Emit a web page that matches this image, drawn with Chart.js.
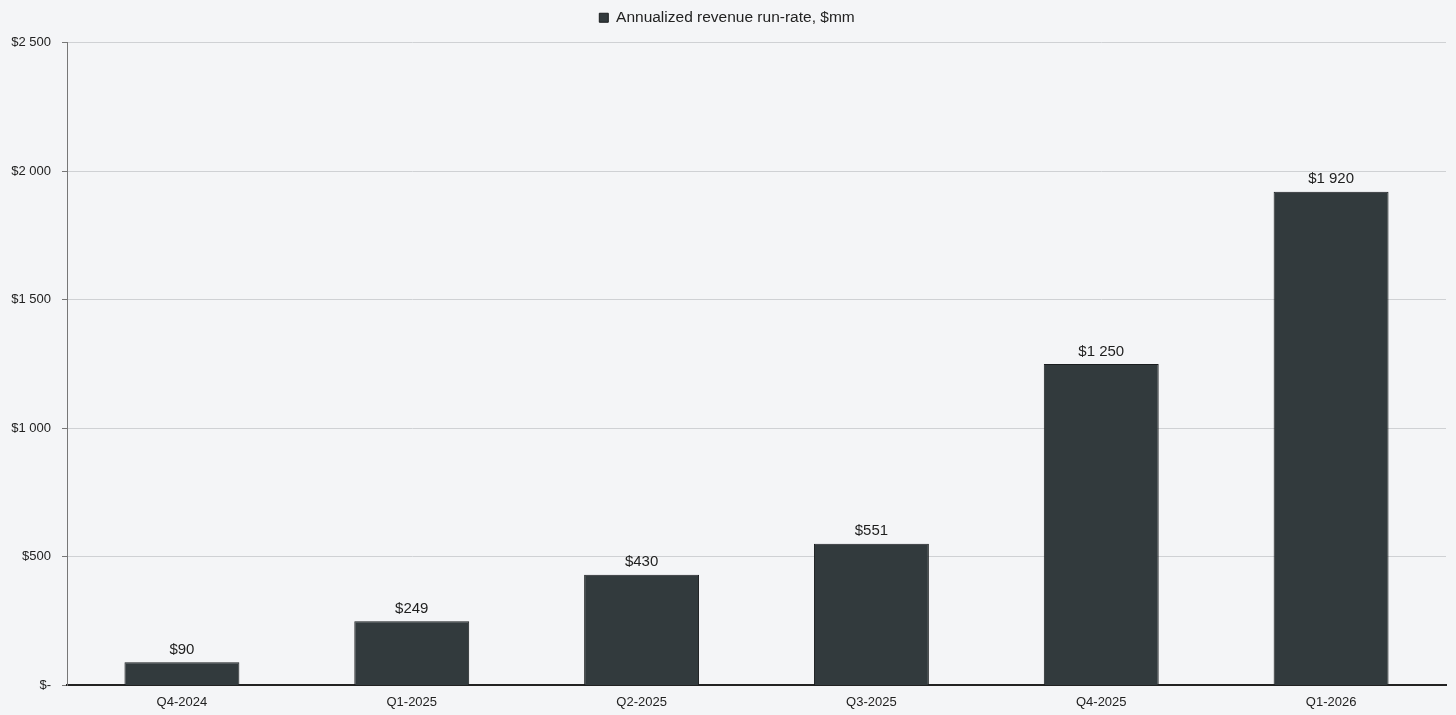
<!DOCTYPE html>
<html lang="en">
<head>
  <meta charset="UTF-8">
  <title>Annualized revenue run-rate</title>
  <script src="https://cdn.jsdelivr.net/npm/chart.js"></script>
  <style>
    html, body { margin: 0; padding: 0; background: #f4f5f7; }
    #wrap { width: 1456px; height: 715px; }
  </style>
</head>
<body>
  <div id="wrap"><canvas id="chart"></canvas></div>
  <script>
    const quarters = ['Q4-2024', 'Q1-2025', 'Q2-2025', 'Q3-2025', 'Q4-2025', 'Q1-2026'];
    const runRate = [90, 249, 430, 551, 1250, 1920];
    const yTicks = [0, 500, 1000, 1500, 2000, 2500];

    const FONT = '"Liberation Sans", Arial, Helvetica, sans-serif';

    function money(v) {
      if (v === 0) return '$-';
      return '$' + String(v).replace(/\B(?=(\d{3})+(?!\d))/g, ' ');
    }

    // draws the value above each bar
    const barLabels = {
      id: 'barLabels',
      afterDatasetsDraw(chart) {
        const c = chart.ctx;
        const meta = chart.getDatasetMeta(0);
        c.save();
        c.font = '15px ' + FONT;
        c.fillStyle = '#1e1e1e';
        c.textAlign = 'center';
        c.textBaseline = 'bottom';
        meta.data.forEach((bar, i) => {
          c.fillText(money(runRate[i]), bar.x, bar.y - 5);
        });
        c.restore();
      }
    };

    // a bit more room under the legend
    const legendGap = {
      id: 'legendGap',
      beforeInit(chart) {
        const fit = chart.legend.fit;
        chart.legend.fit = function () {
          fit.call(this);
          this.height += 7;
        };
      }
    };

    new Chart(document.getElementById('chart'), {
      type: 'bar',
      data: {
        labels: quarters,
        datasets: [{
          label: 'Annualized revenue run-rate, $mm',
          data: runRate,
          backgroundColor: '#323a3d',
          borderColor: '#1a1d1f',
          borderWidth: 1,
          categoryPercentage: 1,
          barPercentage: 0.5
        }]
      },
      options: {
        responsive: true,
        maintainAspectRatio: false,
        animation: false,
        layout: { padding: { left: 8, right: 10, top: 0, bottom: 4 } },
        plugins: {
          legend: {
            labels: {
              boxWidth: 9,
              boxHeight: 9,
              padding: 10,
              color: '#222',
              font: { family: FONT, size: 15.5 }
            }
          },
          tooltip: { enabled: false }
        },
        scales: {
          x: {
            grid: { display: false },
            border: { color: '#222', width: 2 },
            ticks: { color: '#222', font: { family: FONT, size: 13 }, padding: 1 }
          },
          y: {
            min: 0,
            max: 2500,
            afterFit(scale) { scale.width = 59; },
            afterBuildTicks(scale) { scale.ticks = yTicks.map(v => ({ value: v })); },
            grid: { color: '#cfd1d4', tickLength: 5, tickColor: '#777' },
            border: { color: '#777', width: 1 },
            ticks: {
              color: '#222',
              padding: 11,
              font: { family: FONT, size: 13 },
              callback: v => money(v)
            }
          }
        }
      },
      plugins: [barLabels, legendGap]
    });
  </script>
</body>
</html>
